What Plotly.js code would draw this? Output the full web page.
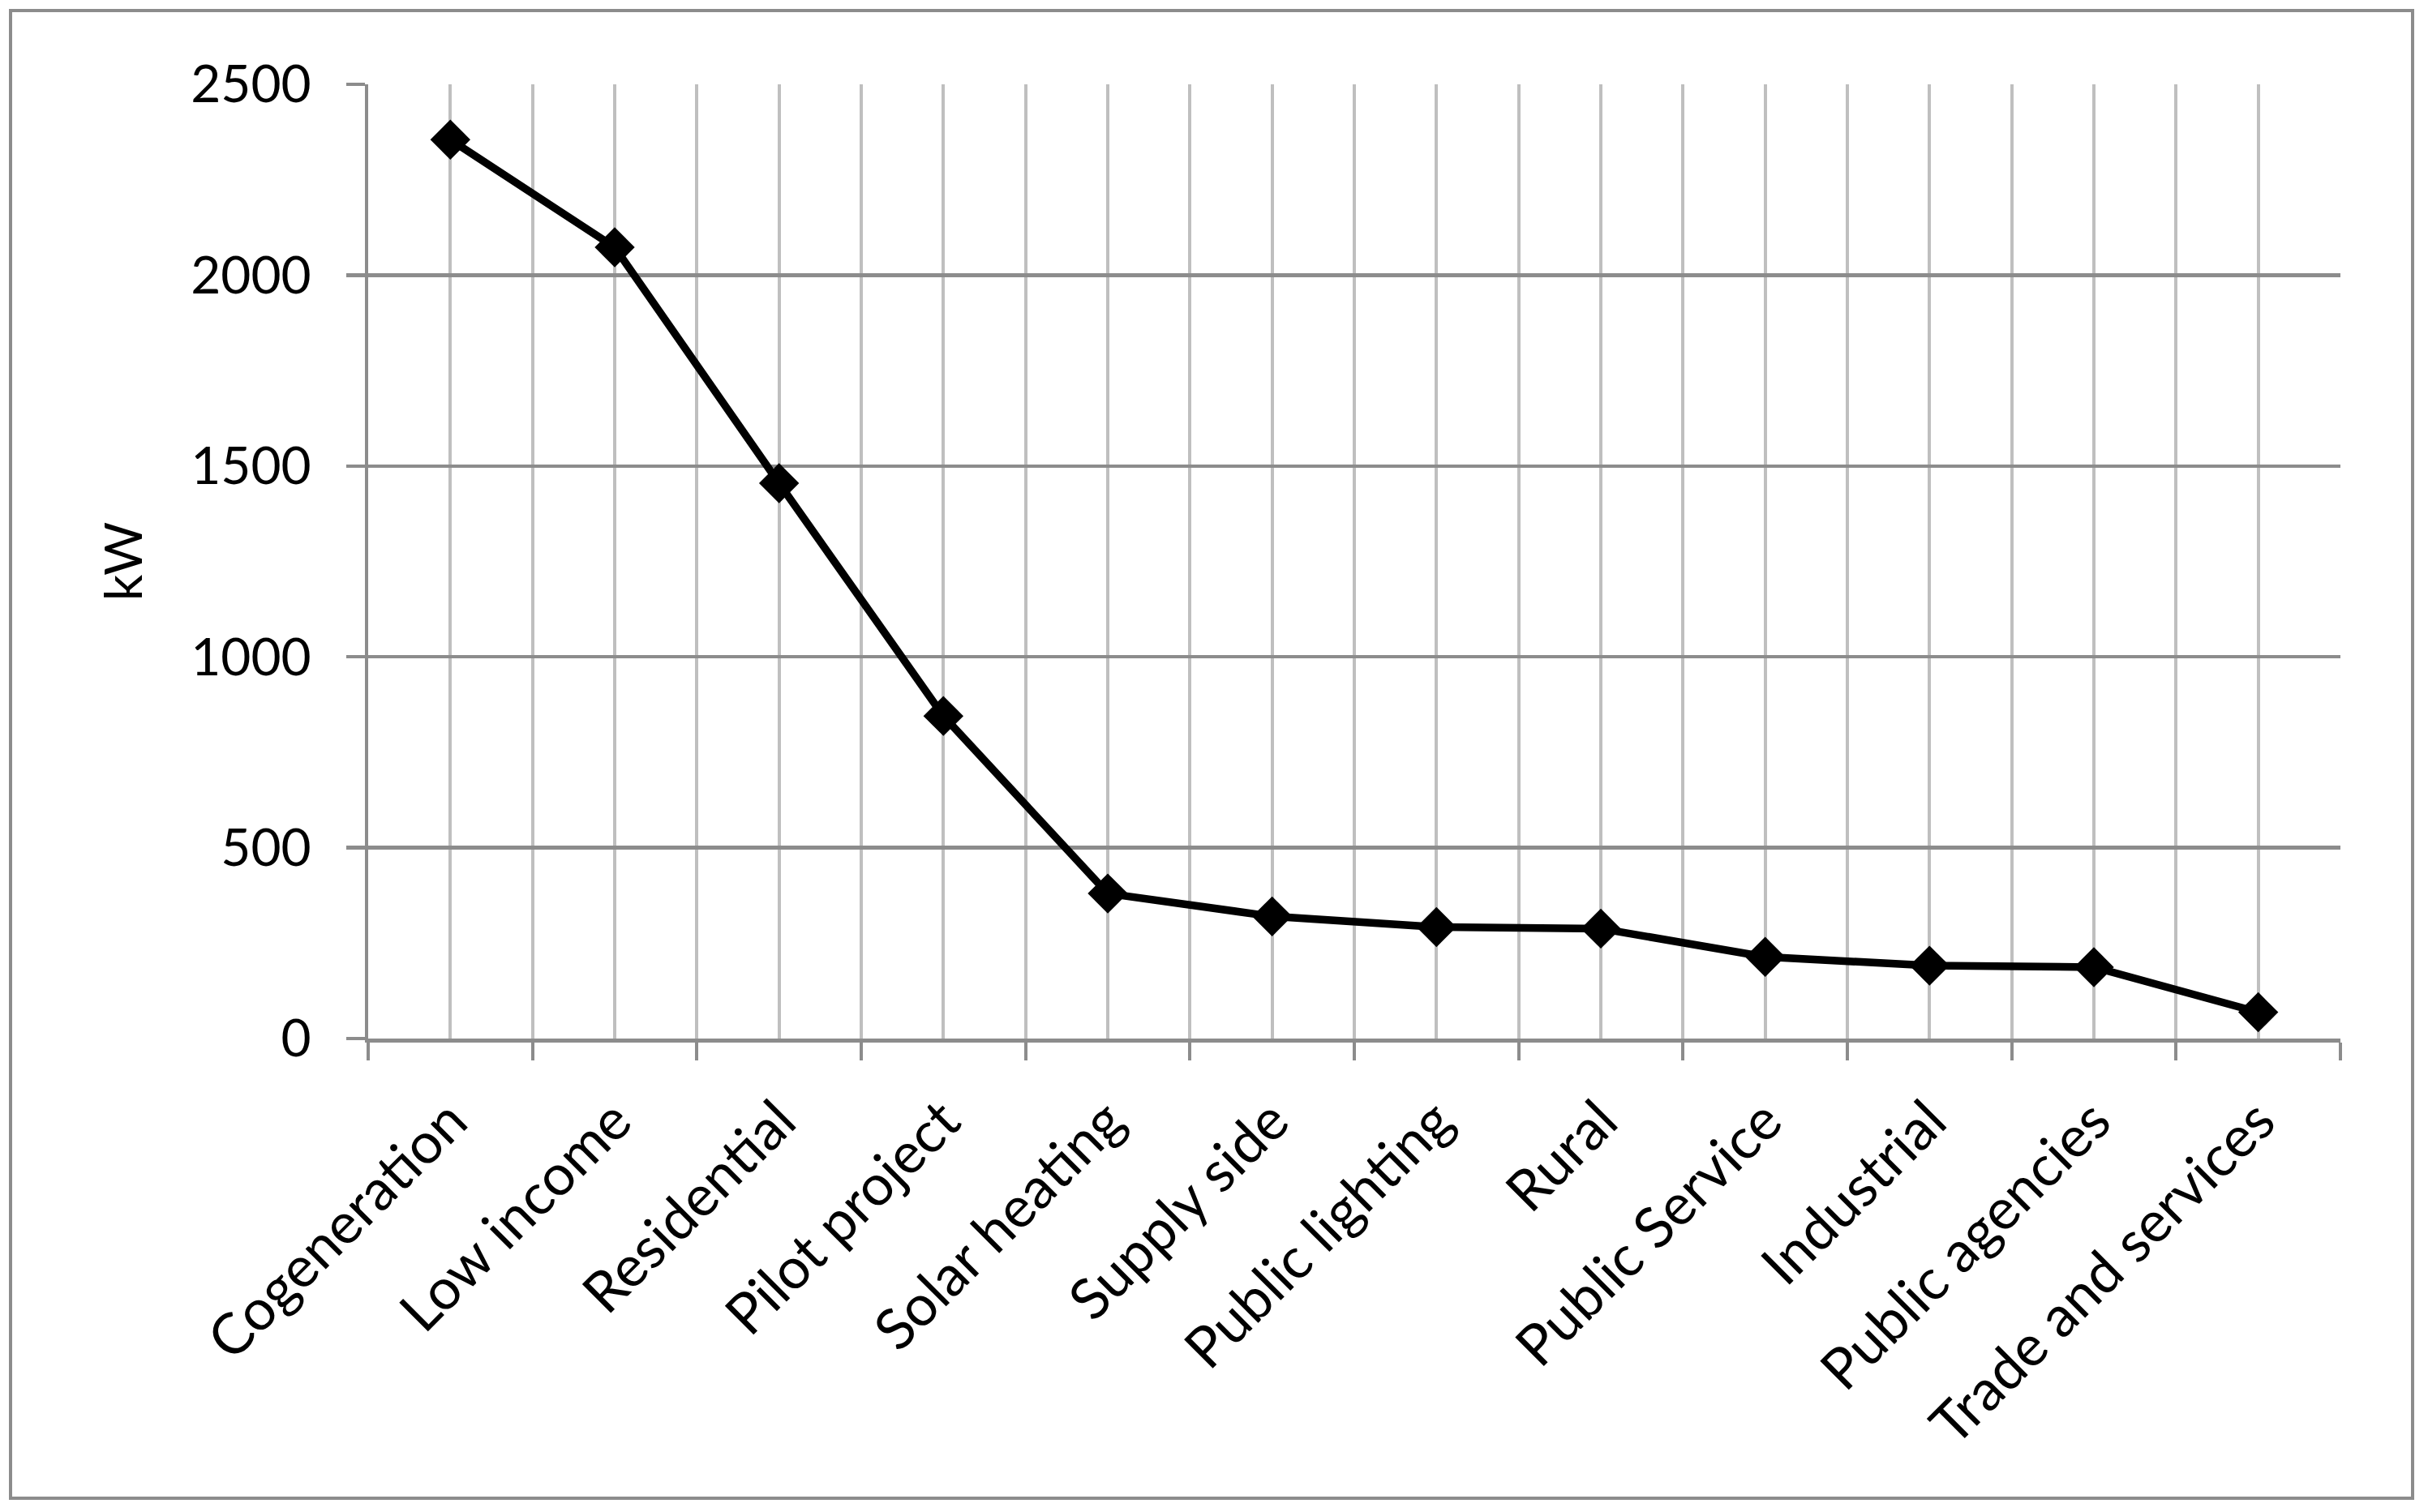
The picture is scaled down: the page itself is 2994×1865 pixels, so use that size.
<!DOCTYPE html>
<html>
<head>
<meta charset="utf-8">
<script src="https://cdn.plot.ly/plotly-3.0.1.min.js"></script>
<style>
html,body{margin:0;padding:0;background:#fff;}
#chart{width:2994px;height:1865px;}
</style>
</head>
<body>
<div id="chart"></div>
<script>
const categories = ["Cogeneration","Low income","Residential","Pilot project","Solar heating","Supply side","Public lighting","Rural","Public Service","Industrial","Public agencies","Trade and services"];
const valuesKW = [2355, 2073, 1455, 845, 380, 320, 292, 288, 214, 191, 187, 69];
const yTicks = [0, 500, 1000, 1500, 2000, 2500];
const yTitle = "kW";

const idx = categories.map((c, i) => i);

const trace = {
  type: 'scatter',
  mode: 'lines+markers',
  x: idx,
  y: valuesKW,
  line: {color: '#000000', width: 9.5},
  marker: {symbol: 'diamond', size: 38, color: '#000000'},
  hoverinfo: 'skip'
};

const FONT = 'Lato, Carlito, "Open Sans", sans-serif';
const FS = 64;
const FSX = 70;

const layout = {
  width: 2994,
  height: 1865,
  paper_bgcolor: '#ffffff',
  plot_bgcolor: '#ffffff',
  showlegend: false,
  margin: {l: 454, r: 108, t: 104, b: 584, pad: 0},
  font: {family: FONT, color: '#000000', size: FS},
  xaxis: {
    type: 'linear',
    range: [-0.5, categories.length - 0.5],
    tickmode: 'array',
    tickvals: idx,
    ticktext: categories,
    tickangle: -45,
    ticks: '',
    ticklabelstandoff: 28,
    showgrid: true,
    gridcolor: '#bfbfbf',
    gridwidth: 4,
    zeroline: false,
    showline: true,
    linecolor: '#8c8c8c',
    linewidth: 4.5,
    tickfont: {family: FONT, size: FSX, color: '#000000'},
    minor: {
      tick0: 0.5,
      dtick: 1,
      showgrid: true,
      gridcolor: '#bfbfbf',
      gridwidth: 4,
      ticks: 'outside',
      ticklen: 22,
      tickwidth: 4,
      tickcolor: '#8c8c8c'
    },
    automargin: false
  },
  yaxis: {
    range: [0, 2500],
    tickmode: 'array',
    tickvals: yTicks,
    ticktext: yTicks.map(String),
    ticks: 'outside',
    ticklen: 23,
    tickwidth: 4.5,
    tickcolor: '#8c8c8c',
    ticklabelstandoff: 30,
    showgrid: true,
    gridcolor: '#8c8c8c',
    gridwidth: 4.5,
    zeroline: false,
    showline: true,
    linecolor: '#8c8c8c',
    linewidth: 4.5,
    tickfont: {family: FONT, size: FS, color: '#000000'},
    title: {text: yTitle, font: {family: FONT, size: FS, color: '#000000'}, standoff: 40},
    automargin: false
  },
  shapes: [{
    type: 'rect', xref: 'paper', yref: 'paper',
    x0: (13 - 454) / 2432, x1: (2975 - 454) / 2432,
    y0: (1281 - 1848) / 1177, y1: (1281 - 13) / 1177,
    line: {color: '#8c8c8c', width: 4},
    fillcolor: 'rgba(0,0,0,0)',
    layer: 'below'
  }]
};

Plotly.newPlot('chart', [trace], layout, {displayModeBar: false, staticPlot: true});
</script>
</body>
</html>
